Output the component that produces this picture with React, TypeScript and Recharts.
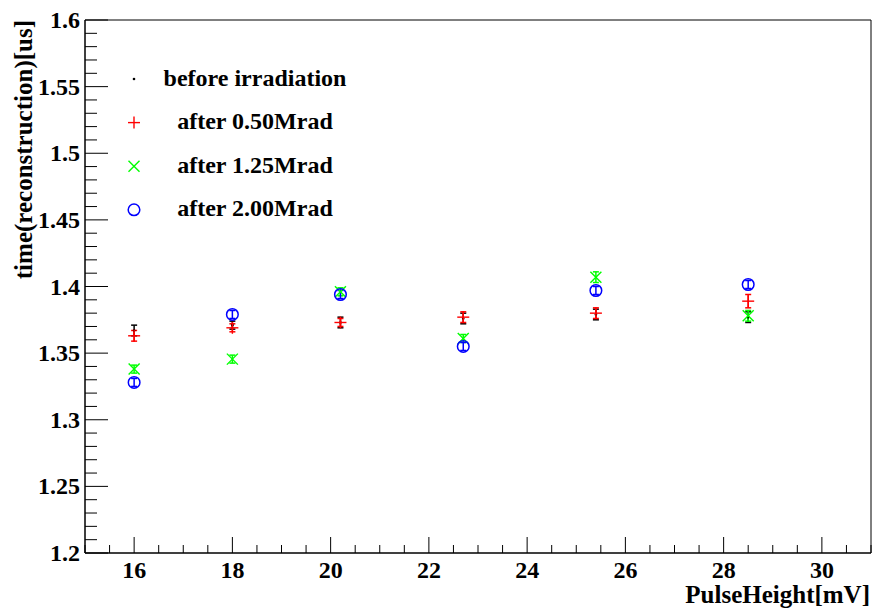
import React from 'react';
import { ScatterChart, Scatter, XAxis, YAxis, ErrorBar, ReferenceArea, Legend, Label } from 'recharts';

// ---- data ----
const pulseHeight = [16, 18, 20.2, 22.7, 25.4, 28.5];
const beforeIrr = [1.367, 1.371, 1.373, 1.376, 1.379, 1.377];
const beforeErr = [0.004, 0.003, 0.004, 0.004, 0.004, 0.004];
const after050 = [1.363, 1.369, 1.373, 1.377, 1.380, 1.389];
const after050Err = [0.004, 0.003, 0.003, 0.004, 0.004, 0.005];
const after125 = [1.338, 1.3455, 1.396, 1.361, 1.407, 1.378];
const after125Err = [0.003, 0.003, 0.003, 0.003, 0.004, 0.004];
const after200 = [1.328, 1.379, 1.394, 1.355, 1.397, 1.4015];
const after200Err = [0.003, 0.003, 0.003, 0.003, 0.003, 0.003];

const seriesNames = ['before irradiation', 'after 0.50Mrad', 'after 1.25Mrad', 'after 2.00Mrad'];

const xMajorTicks = [16, 18, 20, 22, 24, 26, 28, 30];
const xTickLabels = ['16', '18', '20', '22', '24', '26', '28', '30'];
const yMajorTicks = [1.2, 1.25, 1.3, 1.35, 1.4, 1.45, 1.5, 1.55, 1.6];
const yTickLabels = ['1.2', '1.25', '1.3', '1.35', '1.4', '1.45', '1.5', '1.55', '1.6'];

const X_DOMAIN: [number, number] = [15, 31];
const Y_DOMAIN: [number, number] = [1.2, 1.6];

// minor tick positions (axis structure)
const xAllTicks: number[] = [];
for (let i = 0; i <= 32; i++) xAllTicks.push(+(15 + i * 0.5).toFixed(2));
const yAllTicks: number[] = [];
for (let i = 0; i <= 40; i++) yAllTicks.push(+(1.2 + i * 0.01).toFixed(3));

const build = (ys: number[], errs: number[]) =>
  pulseHeight.map((x, i) => ({ x, y: ys[i], err: errs[i] }));

const dataBefore = build(beforeIrr, beforeErr);
const data050 = build(after050, after050Err);
const data125 = build(after125, after125Err);
const data200 = build(after200, after200Err);

const FONT = '"Liberation Serif", "Times New Roman", serif';
const colors = ['#000000', '#ff0000', '#00ff00', '#0000ff'];
const kinds = ['dot', 'plus', 'cross', 'circle'];

const Marker = ({ kind, cx, cy, color }: { kind: string; cx: number; cy: number; color: string }) => {
  const s = 6;
  if (kind === 'dot') return <circle cx={cx} cy={cy} r={1.3} fill={color} />;
  if (kind === 'plus')
    return (
      <g stroke={color} strokeWidth={1.4}>
        <line x1={cx - s} x2={cx + s} y1={cy} y2={cy} />
        <line x1={cx} x2={cx} y1={cy - s} y2={cy + s} />
      </g>
    );
  if (kind === 'cross')
    return (
      <g stroke={color} strokeWidth={1.4}>
        <line x1={cx - 5.5} x2={cx + 5.5} y1={cy - 5.5} y2={cy + 5.5} />
        <line x1={cx - 5.5} x2={cx + 5.5} y1={cy + 5.5} y2={cy - 5.5} />
      </g>
    );
  return <circle cx={cx} cy={cy} r={5.8} fill="none" stroke={color} strokeWidth={1.5} />;
};

const shapeFor = (i: number) => (props: any) =>
  <Marker kind={kinds[i]} cx={props.cx} cy={props.cy} color={colors[i]} />;

const findIdx = (arr: number[], v: number) => arr.findIndex((t) => Math.abs(t - v) < 1e-6);

const XTick = (props: any) => {
  const { x, y, payload } = props;
  const idx = findIdx(xMajorTicks, payload.value);
  const major = idx >= 0;
  return (
    <g>
      <line x1={x} x2={x} y1={y} y2={y - (major ? 16 : 8)} stroke="#000" strokeWidth={1} />
      {major && (
        <text x={x} y={y + 25} textAnchor="middle" fontFamily={FONT} fontWeight="bold" fontSize={24} fill="#000">
          {xTickLabels[idx]}
        </text>
      )}
    </g>
  );
};

const YTick = (props: any) => {
  const { x, y, payload } = props;
  const idx = findIdx(yMajorTicks, payload.value);
  const major = idx >= 0;
  return (
    <g>
      <line x1={x} x2={x + (major ? 23 : 12)} y1={y} y2={y} stroke="#000" strokeWidth={1} />
      {major && (
        <text x={x - 5} y={y + 8} textAnchor="end" fontFamily={FONT} fontWeight="bold" fontSize={24} fill="#000">
          {yTickLabels[idx]}
        </text>
      )}
    </g>
  );
};

const renderLegend = () => (
  <svg width={400} height={240} style={{ display: 'block', overflow: 'visible' }}>
    {seriesNames.map((name, i) => {
      const cy = 79 + i * 43.6;
      return (
        <g key={name}>
          <Marker kind={kinds[i]} cx={134} cy={cy} color={colors[i]} />
          <text x={255} y={cy + 6.5} textAnchor="middle" fontFamily={FONT} fontWeight="bold" fontSize={24} fill="#000">
            {name}
          </text>
        </g>
      );
    })}
  </svg>
);

export default function App() {
  return (
    <div style={{ position: 'absolute', left: 0, top: 0, background: '#fff' }}>
      <ScatterChart width={875} height={612} margin={{ top: 20, right: 4, left: 0, bottom: 0 }}>
        <XAxis
          dataKey="x"
          type="number"
          domain={X_DOMAIN}
          ticks={xAllTicks}
          interval={0}
          tick={<XTick />}
          tickLine={false}
          tickSize={0}
          tickMargin={0}
          height={59}
          axisLine={{ stroke: '#000', strokeWidth: 1 }}
          allowDataOverflow
        >
          <Label
            content={() => (
              <text x={870} y={603} textAnchor="end" fontFamily={FONT} fontWeight="bold" fontSize={25} fill="#000">
                PulseHeight[mV]
              </text>
            )}
          />
        </XAxis>
        <YAxis
          dataKey="y"
          type="number"
          domain={Y_DOMAIN}
          ticks={yAllTicks}
          interval={0}
          tick={<YTick />}
          tickLine={false}
          tickSize={0}
          tickMargin={0}
          width={85}
          axisLine={{ stroke: '#000', strokeWidth: 1 }}
          allowDataOverflow
        >
          <Label
            content={() => (
              <text
                transform="translate(32,20) rotate(-90)"
                textAnchor="end"
                fontFamily={FONT}
                fontWeight="bold"
                fontSize={25}
                fill="#000"
              >
                time(reconstruction)[us]
              </text>
            )}
          />
        </YAxis>
        <ReferenceArea
          x1={X_DOMAIN[0]}
          x2={X_DOMAIN[1]}
          y1={Y_DOMAIN[0]}
          y2={Y_DOMAIN[1]}
          fill="none"
          stroke="#000"
          strokeWidth={1}
          fillOpacity={0}
          ifOverflow="visible"
        />
        <Scatter name={seriesNames[0]} data={dataBefore} shape={shapeFor(0)} isAnimationActive={false}>
          <ErrorBar dataKey="err" direction="y" width={3} stroke={colors[0]} strokeWidth={1.5} />
        </Scatter>
        <Scatter name={seriesNames[1]} data={data050} shape={shapeFor(1)} isAnimationActive={false}>
          <ErrorBar dataKey="err" direction="y" width={3} stroke={colors[1]} strokeWidth={1.5} />
        </Scatter>
        <Scatter name={seriesNames[2]} data={data125} shape={shapeFor(2)} isAnimationActive={false}>
          <ErrorBar dataKey="err" direction="y" width={3} stroke={colors[2]} strokeWidth={1.5} />
        </Scatter>
        <Scatter name={seriesNames[3]} data={data200} shape={shapeFor(3)} isAnimationActive={false}>
          <ErrorBar dataKey="err" direction="y" width={3} stroke={colors[3]} strokeWidth={1.5} />
        </Scatter>
        <Legend
          content={renderLegend}
          layout="vertical"
          align="center"
          verticalAlign="middle"
          wrapperStyle={{ left: 0, top: 0, width: 400, height: 240 }}
        />
      </ScatterChart>
    </div>
  );
}
